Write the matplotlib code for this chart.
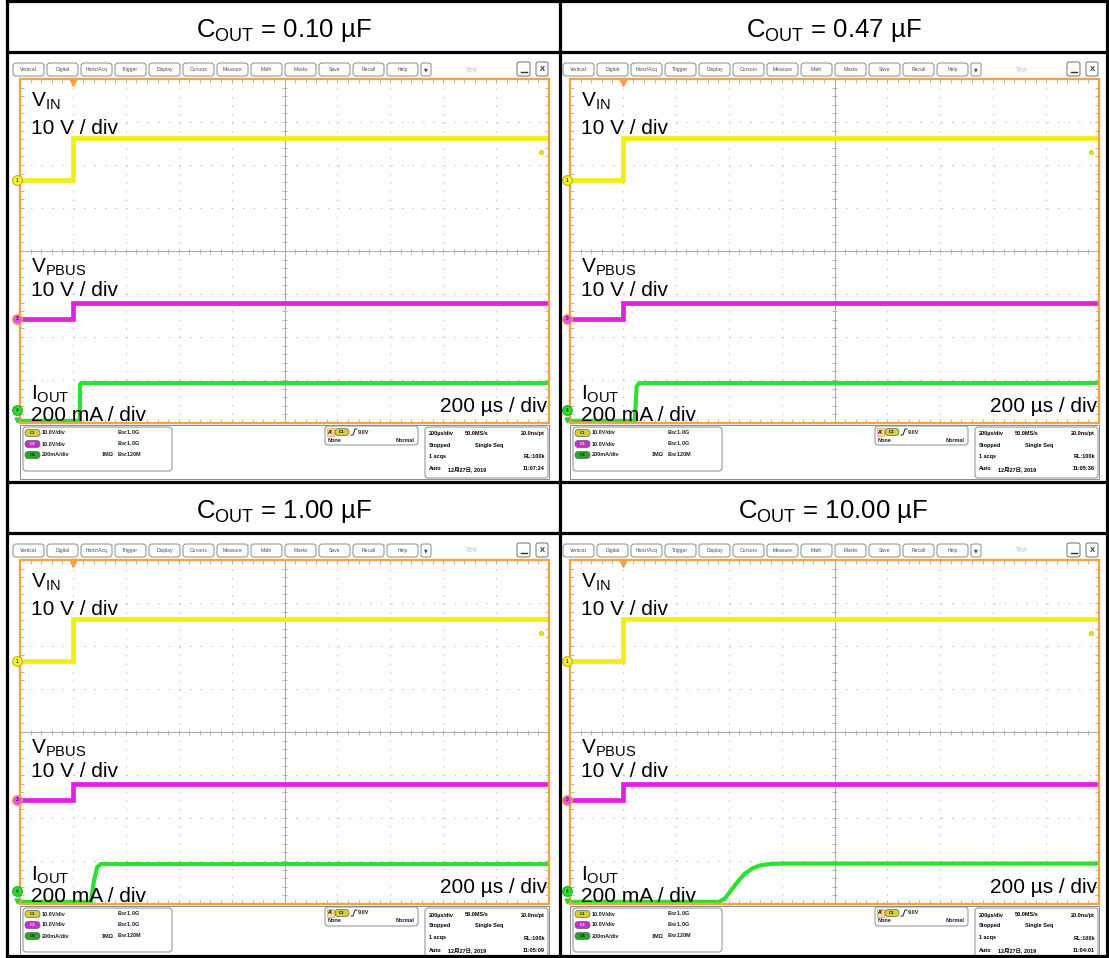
import matplotlib
matplotlib.use("Agg")
import matplotlib.pyplot as plt
from matplotlib.patches import FancyBboxPatch, Rectangle

plt.rcParams['font.family'] = ['Liberation Sans', 'Noto Sans CJK SC', 'DejaVu Sans']
plt.rcParams['mathtext.fontset'] = 'custom'
plt.rcParams['mathtext.rm'] = 'Liberation Sans'
plt.rcParams['mathtext.it'] = 'Liberation Sans'
plt.rcParams['mathtext.bf'] = 'Liberation Sans:bold'

# ---------------- data ----------------
cout_values = ["0.10", "0.47", "1.00", "10.00"]
capture_times = ["11:07:24", "11:05:36", "11:05:09", "11:04:01"]
time_label = "200 µs / div"
vin_label = "10 V / div"
vpbus_label = "10 V / div"
iout_label = "200 mA / div"
menu_buttons = ["Vertical", "Digital", "Horiz/Acq", "Trigger", "Display", "Cursors",
                "Measure", "Math", "Masks", "Save", "Recall", "Help"]

# time axis in µs (trigger at 0, one division from the left edge)
t_start, t_end = -200, 1800
us_per_div = 200

# channel scales (per division) and ground offsets (divisions from bottom)
vin_scale, vin_offset = 10.0, 5.65
vpbus_scale, vpbus_offset = 10.0, 2.42
iout_scale, iout_offset = 200.0, 0.05

vin_t = [-200, 0, 0, 1800]
vin_v = [0.0, 0.0, 9.7, 9.7]
vpbus_t = [-200, 0, 0, 1800]
vpbus_v = [0.0, 0.0, 3.8, 3.8]

iout_t_010 = [-200, 26, 27, 32, 1800]
iout_ma_010 = [0, 0, 168, 176, 176]
iout_t_047 = [-200, 45, 52, 62, 1800]
iout_ma_047 = [0, 0, 160, 176, 176]
iout_t_100 = [-200, 68, 80, 92, 106, 1800]
iout_ma_100 = [0, 0, 100, 162, 176, 176]
iout_t_1000 = [-200, 363, 385, 410, 435, 460, 490, 520, 556, 600, 1800]
iout_ma_1000 = [0, 0, 15, 55, 95, 130, 156, 170, 176, 178, 178]

iout_sets = [(iout_t_010, iout_ma_010), (iout_t_047, iout_ma_047),
             (iout_t_100, iout_ma_100), (iout_t_1000, iout_ma_1000)]

# ---------------- figure ----------------
W, H, DPI = 1109, 958, 100
fig = plt.figure(figsize=(W / DPI, H / DPI), dpi=DPI)
fig.patch.set_facecolor('white')
bg = fig.add_axes([0, 0, 1, 1])
bg.set_xlim(0, W)
bg.set_ylim(H, 0)
bg.axis('off')


def ftext(x, y, s, **kw):
    return fig.text(x / W, 1 - y / H, s, **kw)


def rbox(x, y, w, h, r=3, ec='#8a8a8a', fc='white', lw=0.7, z=2):
    p = FancyBboxPatch((x, y), w, h, boxstyle=f"round,pad=0,rounding_size={r}",
                       ec=ec, fc=fc, lw=lw, zorder=z)
    bg.add_patch(p)


YEL, MAG, GRN = '#f2ee10', '#e41ee4', '#2ee02e'
ORANGE = '#f2a444'
GRID = '#bcbcbc'


def graticule(ax):
    ax.set_xlim(t_start, t_end)
    ax.set_ylim(0, 8)
    ax.set_axis_off()
    px_x = 2000 / 529.0   # µs per pixel
    px_y = 8 / 344.0      # div per pixel
    for k in range(1, 10):
        x = t_start + us_per_div * k
        if k == 5:
            continue
        ax.axvline(x, color=GRID, lw=0.7, ls=(0, (1.4, 7.4)), zorder=1)
    for k in range(1, 8):
        if k == 4:
            continue
        ax.axhline(k, color=GRID, lw=0.7, ls=(0, (1.4, 9.5)), zorder=1)
    ax.axvline(800, color='#a9a9a9', lw=0.7, zorder=1)
    ax.axhline(4, color='#a9a9a9', lw=0.7, zorder=1)
    ys = [i * 0.2 for i in range(41)]
    xs = [t_start + i * 40 for i in range(51)]
    ax.hlines(ys, 800 - 2.5 * px_x, 800 + 2.5 * px_x, color='#a9a9a9', lw=0.6, zorder=1)
    ax.vlines(xs, 4 - 2.5 * px_y, 4 + 2.5 * px_y, color='#a9a9a9', lw=0.6, zorder=1)
    # edge ticks
    ax.vlines(xs, 8 - 4 * px_y, 8, color='#a9a9a9', lw=0.6, zorder=1)
    ax.vlines(xs, 0, 4 * px_y, color='#a9a9a9', lw=0.6, zorder=1)
    ax.hlines(ys, t_start, t_start + 4 * px_x, color='#a9a9a9', lw=0.6, zorder=1)
    ax.hlines(ys, t_end - 4 * px_x, t_end, color='#a9a9a9', lw=0.6, zorder=1)
    ax.add_patch(Rectangle((t_start, 0), t_end - t_start, 8, fill=False, ec=ORANGE,
                           lw=1.7, clip_on=False, zorder=6))
    return px_x, px_y


def panel(idx, ox, oy, hdr_base):
    cell_cx = 283.5 if ox < 300 else 833.5
    ftext(cell_cx, hdr_base, r'$\mathregular{C_{OUT}}$ = ' + cout_values[idx] + ' µF',
          fontsize=18.5, ha='center', va='baseline')
    # menu bar
    for k, name in enumerate(menu_buttons):
        bx = ox + 5 + 34 * k
        rbox(bx, oy + 10, 31, 13, r=3)
        ftext(bx + 15.5, oy + 16.8, name, fontsize=3.6, ha='center', va='center', color='#505050')
    rbox(ox + 413, oy + 10, 10, 13, r=2)
    ftext(ox + 418, oy + 16.8, '▼', fontsize=3.5, ha='center', va='center', color='#404040',
          family=['DejaVu Sans'])
    ftext(ox + 463, oy + 17, 'Tek', fontsize=6, ha='center', va='center', color='#c4c4c4',
          style='italic')
    rbox(ox + 509, oy + 9, 13, 14, r=2, ec='#707070')
    bg.plot([ox + 512.5, ox + 518.5], [oy + 19, oy + 19], color='#303030', lw=1.0, zorder=3)
    rbox(ox + 528, oy + 9, 12, 14, r=2, ec='#707070')
    ftext(ox + 534, oy + 16.5, 'X', fontsize=5.5, ha='center', va='center', color='#303030',
          weight='bold')

    # graticule axes
    gx, gt = ox + 12, oy + 26
    gw, gh = 529, 344
    ax = fig.add_axes([gx / W, 1 - (gt + gh) / H, gw / W, gh / H])
    ax.patch.set_alpha(0)
    px_x, px_y = graticule(ax)

    vin_y = [vin_offset + v / vin_scale for v in vin_v]
    vp_y = [vpbus_offset + v / vpbus_scale for v in vpbus_v]
    it, ima = iout_sets[idx]
    io_y = [iout_offset + i / iout_scale for i in ima]
    ax.plot(vin_t, vin_y, color=YEL, lw=3.4, zorder=3, solid_joinstyle='miter')
    ax.plot(vpbus_t, vp_y, color=MAG, lw=3.4, zorder=3, solid_joinstyle='miter')
    ax.plot(it, io_y, color=GRN, lw=3.0, zorder=3, solid_joinstyle='miter')

    # markers
    mx = t_start - 3 * px_x
    ax.plot([0], [8 - 3 * px_y], marker='v', ms=5.5, color=ORANGE, clip_on=False, zorder=7)
    ax.plot([1770], [6.3], marker='o', ms=2.6, color=YEL, mec='#d6d000', clip_on=False, zorder=7)
    ax.plot([mx], [vin_offset], marker='o', ms=7, mfc='#f4f040', mec='#c8b400', mew=0.8,
            clip_on=False, zorder=8)
    ax.text(mx, vin_offset, '1', fontsize=3.5, ha='center', va='center', clip_on=False, zorder=9)
    ax.plot([mx], [vpbus_offset], marker='o', ms=7, mfc='#e850e8', mec=ORANGE, mew=0.9,
            clip_on=False, zorder=8)
    ax.text(mx, vpbus_offset, '3', fontsize=3.5, ha='center', va='center', clip_on=False, zorder=9)
    ax.plot([mx], [0.3], marker='o', ms=7, mfc='#30d830', mec='#20b020', mew=0.8,
            clip_on=False, zorder=8)
    ax.text(mx, 0.3, '4', fontsize=3.5, ha='center', va='center', clip_on=False, zorder=9)
    ax.plot([mx], [0.08], marker='v', ms=3.5, color='#30d030', clip_on=False, zorder=8)

    # on-screen labels
    lx = gx + 11
    ftext(lx, gt + 28, r'$\mathregular{V_{IN}}$', fontsize=15, va='baseline', zorder=10)
    ftext(lx, gt + 55, vin_label, fontsize=15, va='baseline', zorder=10)
    ftext(lx, gt + 194, r'$\mathregular{V_{PBUS}}$', fontsize=15, va='baseline', zorder=10)
    ftext(lx, gt + 217, vpbus_label, fontsize=15, va='baseline', zorder=10)
    ftext(lx, gt + 321, r'$\mathregular{I_{OUT}}$', fontsize=15, va='baseline', zorder=10)
    ftext(lx, gt + 342, iout_label, fontsize=15, va='baseline', zorder=10)
    ftext(gx + gw - 2, gt + 333, time_label, fontsize=15, va='baseline', ha='right', zorder=10)

    # status bar
    gb = gt + gh
    bg.add_patch(Rectangle((gx, gb + 2), gw, 54, fill=False, ec='#8c8c8c', lw=0.7, zorder=1))
    rbox(gx + 3, gb + 4, 149, 44, r=3)
    rows = [('C1', '#d8d030', '#202020', '10.0V/div', '', '1.0G'),
            ('C3', '#c82ec8', '#f0f0f0', '10.0V/div', '', '1.0G'),
            ('C4', '#26a826', '#102010', '200mA/div', '1MΩ', '120M')]
    for r, (cn, pc, tc, sc, imp, bw) in enumerate(rows):
        yy = gb + 10 + 11 * r
        rbox(gx + 5, yy - 3.5, 15, 7, r=3.5, ec='#606060', fc=pc, lw=0.5, z=3)
        ftext(gx + 12.5, yy, cn, fontsize=3.2, ha='center', va='center', color=tc, weight='bold')
        ftext(gx + 22, yy, sc, fontsize=4, va='center', weight='bold', color='#202020')
        if imp:
            ftext(gx + 82, yy, imp, fontsize=4, va='center', weight='bold', color='#202020')
        ftext(gx + 97, yy, r'$\mathregular{B_W}$:' + bw, fontsize=4, va='center',
              weight='bold', color='#202020')
    # trigger box
    rbox(gx + 305, gb + 3, 93, 19, r=3)
    bg.add_patch(Rectangle((gx + 307, gb + 5), 7, 8, fc='#fbd8a8', ec=ORANGE, lw=0.5, zorder=3))
    ftext(gx + 310.5, gb + 9, "A'", fontsize=3.8, ha='center', va='center', weight='bold')
    rbox(gx + 315, gb + 5.5, 14, 7, r=3.5, ec='#606060', fc='#d8d030', lw=0.5, z=3)
    ftext(gx + 322, gb + 9, 'C1', fontsize=3.2, ha='center', va='center', weight='bold')
    bg.plot([gx + 331, gx + 333, gx + 335, gx + 337], [gb + 12, gb + 12, gb + 6, gb + 6],
            color='#202020', lw=0.7, zorder=3)
    ftext(gx + 338, gb + 9, '9.0V', fontsize=4, va='center', weight='bold', color='#202020')
    ftext(gx + 308, gb + 17, 'None', fontsize=4, va='center', weight='bold', color='#202020')
    ftext(gx + 394, gb + 17, 'Normal', fontsize=4, va='center', ha='right', weight='bold',
          color='#202020')
    # acquisition box
    rbox(gx + 405, gb + 4, 123, 51, r=3)
    ax0 = gx + 409
    ax1 = gx + 525
    rr = [gb + 11, gb + 22, gb + 34, gb + 46]
    ftext(ax0, rr[0], '200µs/div', fontsize=4, va='center', weight='bold')
    ftext(gx + 445, rr[0], '50.0MS/s', fontsize=4, va='center', weight='bold')
    ftext(ax1, rr[0], '20.0ns/pt', fontsize=4, va='center', ha='right', weight='bold')
    ftext(ax0, rr[1], 'Stopped', fontsize=4, va='center', weight='bold')
    ftext(gx + 455, rr[1], 'Single Seq', fontsize=4, va='center', weight='bold')
    ftext(ax0, rr[2], '1 acqs', fontsize=4, va='center', weight='bold')
    ftext(ax1, rr[2], 'RL:100k', fontsize=4, va='center', ha='right', weight='bold')
    ftext(ax0, rr[3], 'Auto', fontsize=4, va='center', weight='bold')
    ftext(gx + 428, rr[3], '12月27日, 2019', fontsize=4, va='center', weight='bold')
    ftext(ax1, rr[3], capture_times[idx], fontsize=4, va='center', ha='right', weight='bold')


origins = [(8, 53, 37), (558, 53, 37), (8, 534, 518), (558, 534, 518)]
for i, (ox, oy, hb) in enumerate(origins):
    panel(i, ox, oy, hb)

# table lines (drawn last on top)
top = fig.add_axes([0, 0, 1, 1], zorder=20)
top.set_xlim(0, W)
top.set_ylim(H, 0)
top.axis('off')
top.patch.set_alpha(0)
lk = dict(color='black', lw=2.3, solid_capstyle='projecting')
top.plot([7, 7], [1, 956], **lk)
top.plot([1107, 1107], [1, 956], **lk)
top.plot([560, 560], [1, 956], **lk)
for yy in [1, 52, 482, 533, 956]:
    top.plot([7, 1107], [yy, yy], **lk)

fig.savefig('out.png', dpi=DPI)
